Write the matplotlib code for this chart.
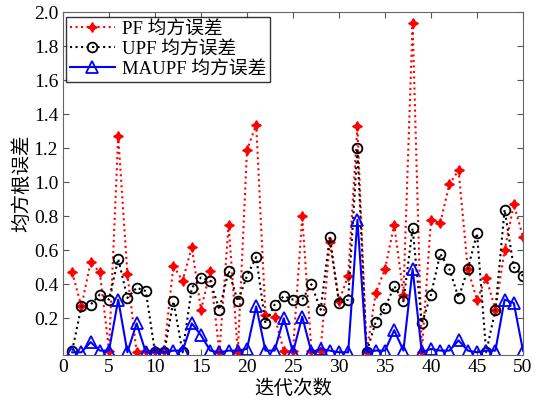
import numpy as np
import matplotlib
matplotlib.use('Agg')
import matplotlib.pyplot as plt

plt.rcParams['font.family'] = ['Liberation Serif', 'Noto Sans CJK SC']
plt.rcParams['axes.unicode_minus'] = False

# iteration index
iters = np.arange(1, 51)

# RMSE values
pf_rmse = [0.47, 0.27, 0.53, 0.47, 0.01, 1.27, 0.46, 0.00, 0.01, 0.01,
           0.01, 0.51, 0.42, 0.62, 0.25, 0.48, 0.00, 0.75, 0.00, 1.19,
           1.34, 0.22, 0.21, 0.01, 0.01, 0.80, 0.01, 0.01, 0.65, 0.30,
           0.45, 1.33, 0.00, 0.35, 0.49, 0.75, 0.34, 1.94, 0.00, 0.78,
           0.76, 0.99, 1.07, 0.49, 0.31, 0.44, 0.25, 0.60, 0.87, 0.68]
upf_rmse = [0.01, 0.27, 0.28, 0.34, 0.31, 0.55, 0.32, 0.38, 0.36, 0.00,
            0.00, 0.30, 0.00, 0.38, 0.44, 0.42, 0.25, 0.48, 0.30, 0.45,
            0.56, 0.17, 0.28, 0.33, 0.31, 0.31, 0.40, 0.25, 0.68, 0.29,
            0.31, 1.20, 0.00, 0.18, 0.26, 0.39, 0.30, 0.73, 0.17, 0.34,
            0.58, 0.49, 0.32, 0.49, 0.70, 0.00, 0.25, 0.84, 0.50, 0.45]
maupf_rmse = [0.00, 0.00, 0.06, 0.01, 0.01, 0.31, 0.00, 0.17, 0.00, 0.00,
              0.00, 0.01, 0.01, 0.17, 0.10, 0.01, 0.00, 0.01, 0.01, 0.02,
              0.27, 0.01, 0.01, 0.20, 0.00, 0.21, 0.00, 0.02, 0.01, 0.00,
              0.00, 0.78, 0.00, 0.01, 0.01, 0.13, 0.01, 0.49, 0.00, 0.02,
              0.01, 0.01, 0.07, 0.01, 0.00, 0.01, 0.01, 0.31, 0.29, 0.01]

fig = plt.figure(figsize=(5.4, 4.04), dpi=100)
ax = fig.add_axes([0.1167, 0.1225, 0.8518, 0.847])

ax.plot(iters, pf_rmse, color='red', linestyle=':', linewidth=1.5,
        marker=(4, 1, 0), markersize=7, label='PF 均方误差')
ax.plot(iters, upf_rmse, color='black', linestyle=':', linewidth=1.5,
        marker='o', markersize=7, markerfacecolor='none', markeredgewidth=1.3,
        label='UPF 均方误差')
ax.plot(iters, maupf_rmse, color='blue', linestyle='-', linewidth=1.5,
        marker='^', markersize=8, markerfacecolor='none', markeredgewidth=1.3,
        label='MAUPF 均方误差')

ax.set_xlim(0, 50)
ax.set_ylim(-0.013, 2.0)
ax.set_xticks(np.arange(0, 51, 5))
ax.set_yticks(np.arange(0.2, 2.01, 0.2))
ax.set_yticklabels([f'{v:.1f}' for v in np.arange(0.2, 2.01, 0.2)])
ax.tick_params(direction='in', top=True, right=True, labelsize=14,
               color='#555555', length=4)
for sp in ax.spines.values():
    sp.set_color('#666666')

ax.set_xlabel('迭代次数', fontsize=14, labelpad=2)
ax.set_ylabel('均方根误差', fontsize=14, labelpad=2)

leg = ax.legend(loc='upper left', bbox_to_anchor=(0.006, 0.986), fontsize=13.5,
                frameon=True, fancybox=False, edgecolor='black',
                handlelength=2.4, borderaxespad=0, borderpad=0.2,
                labelspacing=0.15, handletextpad=0.4)
leg.get_frame().set_linewidth(1.0)

fig.savefig('out.png', dpi=100)
